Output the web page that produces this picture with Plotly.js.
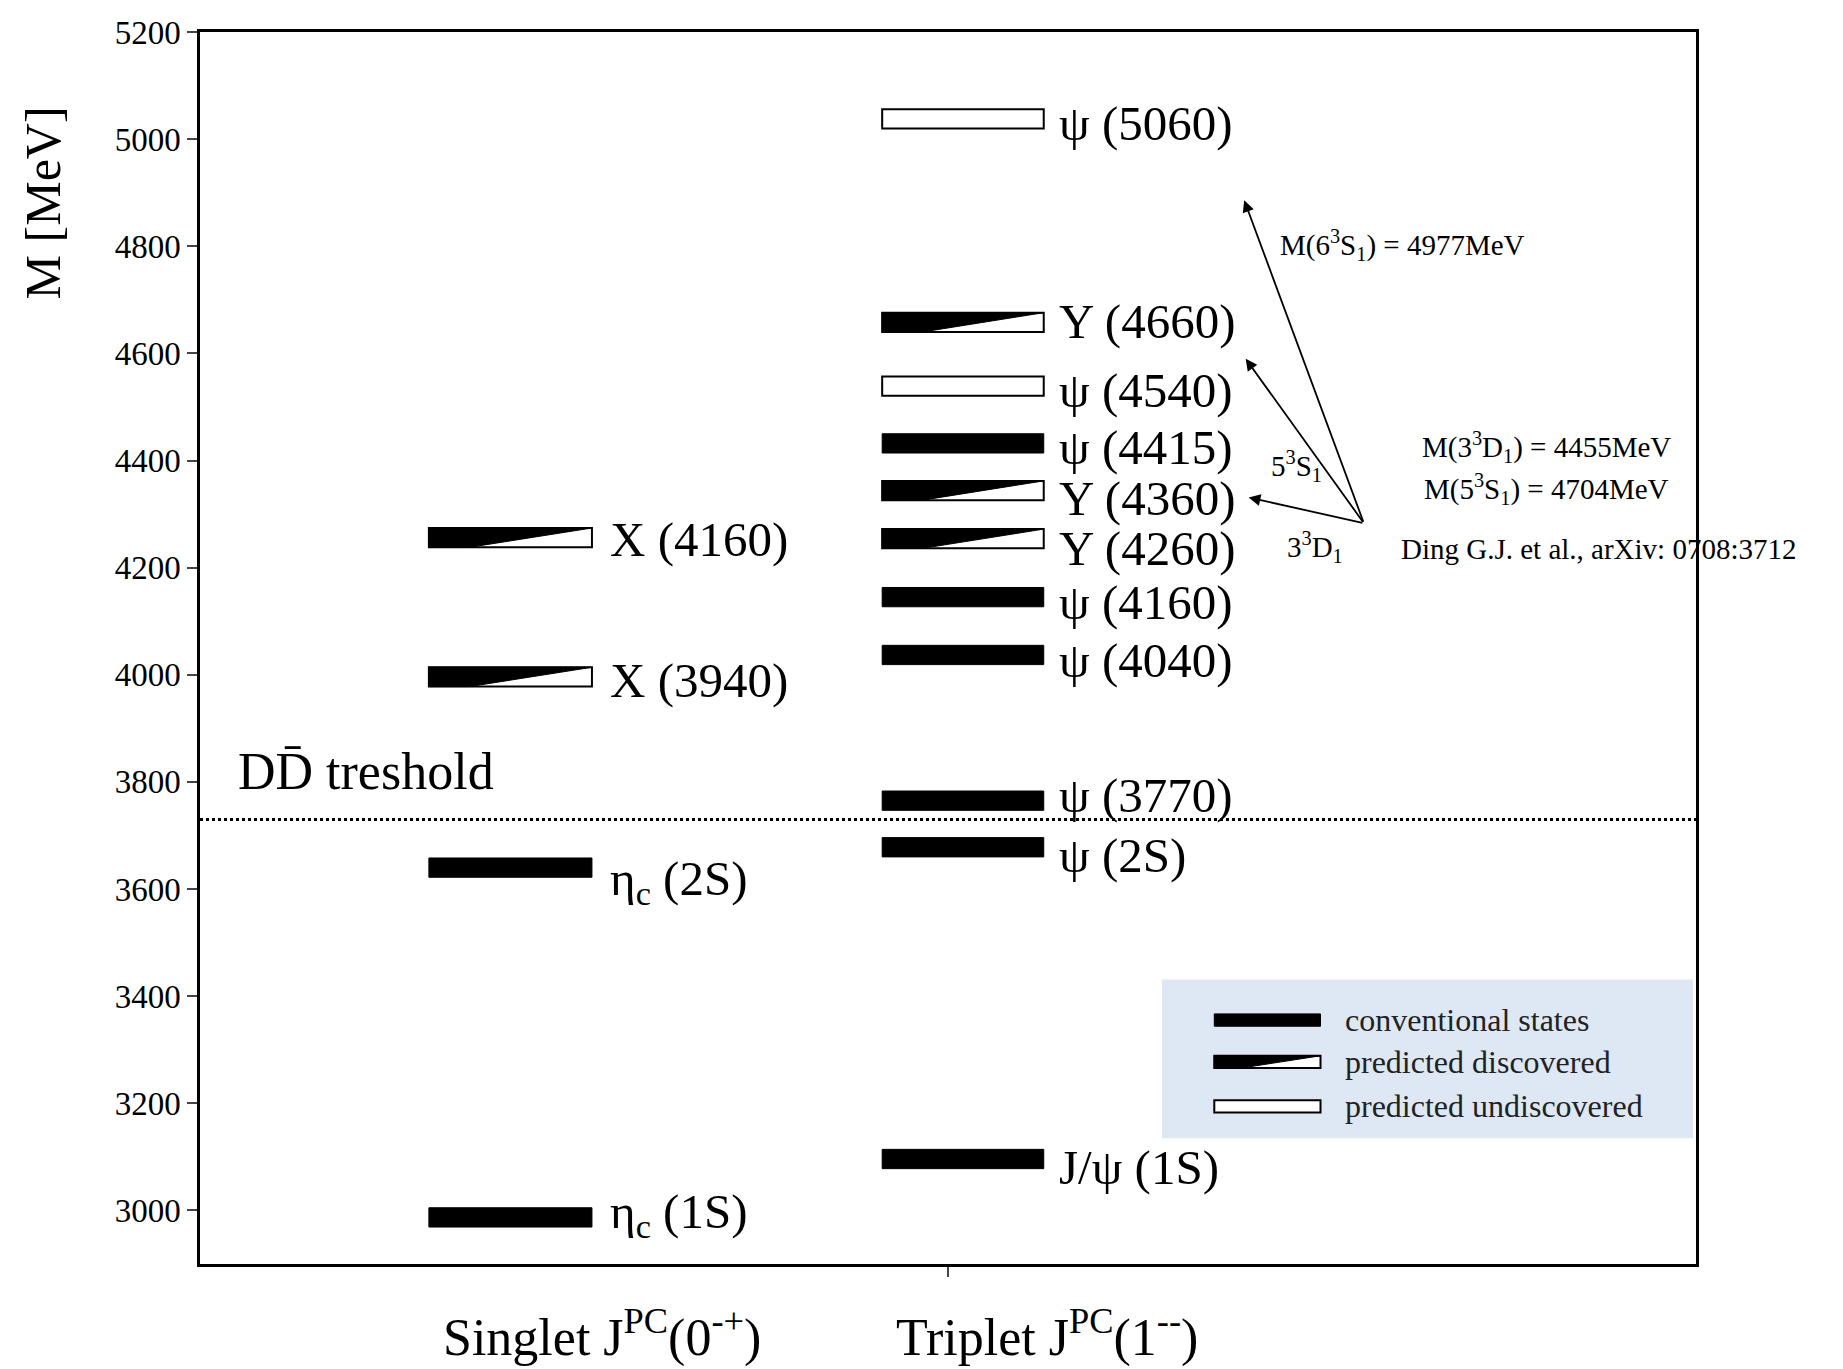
<!DOCTYPE html>
<html>
<head>
<meta charset="utf-8">
<script src="https://cdn.plot.ly/plotly-3.0.1.min.js"></script>
<style>body{margin:0;background:#fff}#chart{width:1843px;height:1369px}</style>
</head>
<body>
<div id="chart"></div>
<script>
// state name, column (0 singlet, 1 triplet), mass drawn, kind
var stateNames = ['η<sub>c</sub> (1S)', 'η<sub>c</sub> (2S)', 'X (3940)', 'X (4160)',
  'J/ψ (1S)', 'ψ (2S)', 'ψ (3770)', 'ψ (4040)', 'ψ (4160)', 'Y (4260)', 'Y (4360)',
  'ψ (4415)', 'ψ (4540)', 'Y (4660)', 'ψ (5060)'];
var stateColumn = [0, 0, 0, 0, 1, 1, 1, 1, 1, 1, 1, 1, 1, 1, 1];
var stateMass = [2987, 3640, 3996, 4256, 3096, 3678, 3765, 4037, 4145, 4254, 4344, 4432, 4539, 4658, 5038];
var labelMass = [2993, 3615, 3990, 4252, 3080, 3662, 3775, 4027, 4135, 4235, 4330, 4425, 4530, 4660, 5030];
// 0 conventional, 1 predicted discovered, 2 predicted undiscovered
var stateKind = [0, 0, 1, 1, 0, 0, 0, 0, 0, 1, 1, 0, 2, 1, 2];
var thresholdMass = 3730;
var legendLabels = ['conventional states', 'predicted discovered', 'predicted undiscovered'];

var SERIF = '"Liberation Serif", "Times New Roman", serif';
var colX = [[0.153, 0.262], [0.456, 0.564]];
var labelX = [0.273, 0.573];
var half = 18;

var shapes = [], annotations = [];
function rectPath(x0, x1, y0, y1, xr, yr) {
  return {type: 'rect', xref: xr, yref: yr, x0: x0, x1: x1, y0: y0, y1: y1};
}
function drawBar(kind, x0, x1, yc, h, xr, yr) {
  var y0 = yc - h, y1 = yc + h;
  if (kind === 0) {
    var r = rectPath(x0, x1, y0, y1, xr, yr);
    r.fillcolor = '#000'; r.line = {color: '#000', width: 1};
    shapes.push(r);
  } else {
    var r2 = rectPath(x0, x1, y0, y1, xr, yr);
    r2.fillcolor = '#fff'; r2.line = {color: '#000', width: 2};
    shapes.push(r2);
    if (kind === 1) {
      var xm = x0 + (x1 - x0) * 0.25;
      shapes.push({type: 'path', xref: xr, yref: yr, fillcolor: '#000', line: {color: '#000', width: 1},
        path: 'M' + x0 + ',' + y1 + ' L' + x1 + ',' + y1 + ' L' + xm + ',' + y0 + ' L' + x0 + ',' + y0 + ' Z'});
    }
  }
}

for (var i = 0; i < stateNames.length; i++) {
  var c = colX[stateColumn[i]];
  drawBar(stateKind[i], c[0], c[1], stateMass[i], half, 'x', 'y');
  annotations.push({x: labelX[stateColumn[i]], y: labelMass[i], xref: 'x', yref: 'y', text: stateNames[i],
    showarrow: false, xanchor: 'left', yanchor: 'middle',
    font: {family: SERIF, size: 49, color: '#000'}});
}

// threshold line
shapes.push({type: 'line', xref: 'paper', yref: 'y', x0: 0, x1: 1, y0: thresholdMass, y1: thresholdMass,
  line: {color: '#000', width: 3, dash: 'dot'}});
annotations.push({x: 0.024, y: 3820, xref: 'x', yref: 'y', text: 'DD̄ treshold', showarrow: false,
  xanchor: 'left', yanchor: 'middle', font: {family: SERIF, size: 52, color: '#000'}});

// legend box
shapes.push({type: 'rect', xref: 'paper', yref: 'paper', x0: 0.643, x1: 0.998, y0: 0.102, y1: 0.231,
  fillcolor: '#dde8f4', line: {width: 0}, layer: 'below'});
var legY = [0.198, 0.164, 0.128];
for (var k = 0; k < 3; k++) {
  drawBar(k, 0.678, 0.749, legY[k], 0.005, 'paper', 'paper');
  annotations.push({x: 0.764, y: legY[k], xref: 'paper', yref: 'paper', text: legendLabels[k], showarrow: false,
    xanchor: 'left', yanchor: 'middle', font: {family: SERIF, size: 32, color: '#222'}});
}

// arrows from Ding et al. prediction
var arrowTail = [0.778, 4283];
var arrowHeads = [[0.701, 4331], [0.699, 4590], [0.698, 4886]];
arrowHeads.forEach(function (h) {
  annotations.push({x: h[0], y: h[1], ax: arrowTail[0], ay: arrowTail[1], xref: 'x', yref: 'y',
    axref: 'x', ayref: 'y', text: '', showarrow: true, arrowhead: 2, arrowsize: 1.3, arrowwidth: 1.8, arrowcolor: '#000'});
});
var smallTexts = [
  ['M(6<sup>3</sup>S<sub>1</sub>) = 4977MeV', 0.804, 4803],
  ['M(3<sup>3</sup>D<sub>1</sub>) = 4455MeV', 0.900, 4425],
  ['M(5<sup>3</sup>S<sub>1</sub>) = 4704MeV', 0.900, 4346],
  ['Ding G.J. et al., arXiv: 0708:3712', 0.935, 4235],
  ['5<sup>3</sup>S<sub>1</sub>', 0.733, 4390],
  ['3<sup>3</sup>D<sub>1</sub>', 0.745, 4239]
];
smallTexts.forEach(function (t) {
  annotations.push({x: t[1], y: t[2], xref: 'x', yref: 'y', text: t[0], showarrow: false,
    xanchor: 'center', yanchor: 'middle', font: {family: SERIF, size: 29, color: '#000'}});
});

// column labels
annotations.push({x: 0.269, y: -0.085, xref: 'x', yref: 'paper', text: 'Singlet J<sup>PC</sup>(0<sup>-+</sup>)',
  showarrow: false, font: {family: SERIF, size: 52, color: '#000'}});
annotations.push({x: 0.566, y: -0.085, xref: 'x', yref: 'paper', text: 'Triplet J<sup>PC</sup>(1<sup>--</sup>)',
  showarrow: false, font: {family: SERIF, size: 52, color: '#000'}});
// y axis title, placed near the top as in the original
annotations.push({x: -0.125, y: 4880, xref: 'paper', yref: 'y', text: 'M [MeV]', textangle: -90,
  showarrow: false, font: {family: SERIF, size: 50, color: '#000'}});

var layout = {
  width: 1843, height: 1369,
  margin: {l: 200, r: 147, t: 32, b: 105},
  font: {family: SERIF, color: '#000'},
  paper_bgcolor: '#fff', plot_bgcolor: '#fff',
  showlegend: false,
  xaxis: {range: [0, 1], tickvals: [0.5], ticktext: [''], ticks: 'outside', ticklen: 10, tickwidth: 2,
    showline: true, linewidth: 2.5, linecolor: '#000', mirror: true, showgrid: false, zeroline: false},
  yaxis: {range: [2900, 5200], dtick: 200, ticks: 'outside', ticklen: 10, tickwidth: 2,
    showline: true, linewidth: 2.5, linecolor: '#000', mirror: true, showgrid: false, zeroline: false,
    tickfont: {family: SERIF, size: 33, color: '#000'}},
  shapes: shapes,
  annotations: annotations
};
Plotly.newPlot('chart', [{x: [], y: [], type: 'scatter'}], layout, {displayModeBar: false});
</script>
</body>
</html>
